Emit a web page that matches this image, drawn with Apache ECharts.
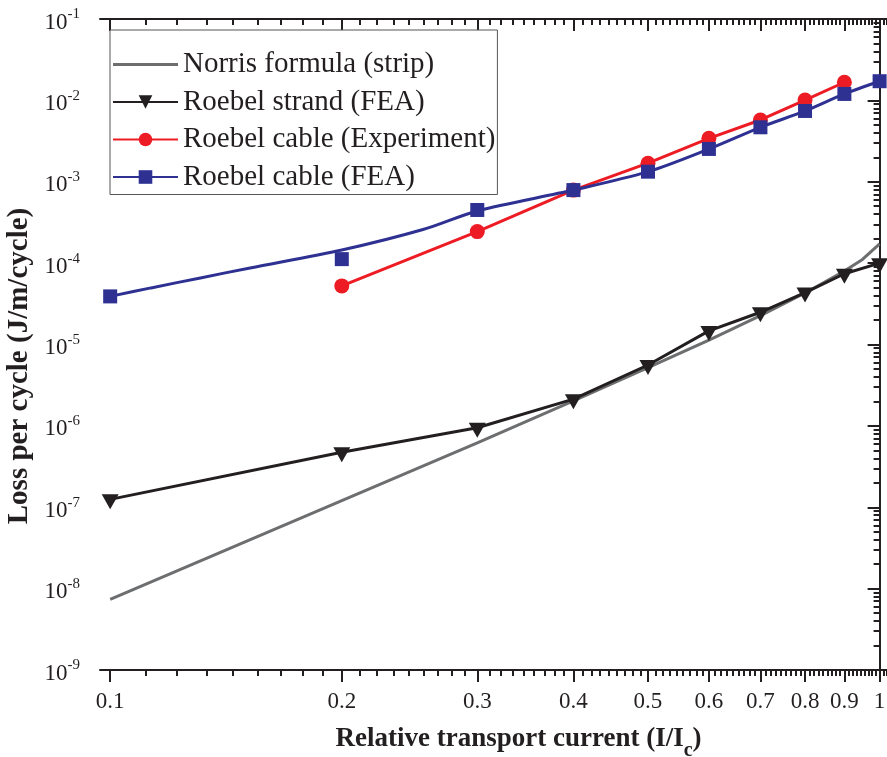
<!DOCTYPE html>
<html><head><meta charset="utf-8">
<script src="https://cdn.jsdelivr.net/npm/echarts@6/dist/echarts.min.js"></script>
<style>html,body{margin:0;padding:0;background:#fff}#c{width:887px;height:757px}</style>
</head><body><div id="c"></div>
<script>
// ---------- data ----------
const xTickLabels = [0.1, 0.2, 0.3, 0.4, 0.5, 0.6, 0.7, 0.8, 0.9, 1];
const yDecades = [-9, -8, -7, -6, -5, -4, -3, -2, -1];

const norrisX = [0.1, 0.2, 0.3, 0.4, 0.5, 0.6, 0.7, 0.8, 0.9, 0.95, 1.0];
const norrisY = [7.4e-9, 1.21e-7, 6.2e-7, 2.03e-6, 5.2e-6, 1.13e-5, 2.26e-5, 4.3e-5, 8.0e-5, 1.11e-4, 1.72e-4];

const strandX = [0.1, 0.2, 0.3, 0.4, 0.5, 0.6, 0.7, 0.8, 0.9, 1.0];
const strandY = [1.25e-7, 4.75e-7, 9.5e-7, 2.13e-6, 5.6e-6, 1.47e-5, 2.49e-5, 4.34e-5, 7.4e-5, 1.0e-4];

const expX = [0.2, 0.3, 0.4, 0.5, 0.6, 0.7, 0.8, 0.9];
const expY = [5.25e-5, 2.44e-4, 7.9e-4, 1.69e-3, 3.42e-3, 5.74e-3, 1.01e-2, 1.67e-2];

const cableX = [0.1, 0.2, 0.3, 0.4, 0.5, 0.6, 0.7, 0.8, 0.9, 1.0];
const cableY = [3.9e-5, 1.12e-4, 4.5e-4, 7.9e-4, 1.33e-3, 2.53e-3, 4.67e-3, 7.41e-3, 1.2e-2, 1.72e-2];

// fitted curve drawn through the FEA cable markers
const cableCurveX = [0.1, 0.113, 0.131, 0.152, 0.2, 0.255, 0.3, 0.4, 0.5, 0.6, 0.7, 0.8, 0.9, 1.0];
const cableCurveY = [3.9e-5, 4.96e-5, 6.58e-5, 8.73e-5, 1.45e-4, 2.59e-4, 4.38e-4, 7.9e-4, 1.33e-3, 2.53e-3, 4.67e-3, 7.41e-3, 1.2e-2, 1.72e-2];

const seriesNames = ['Norris formula (strip)', 'Roebel strand (FEA)', 'Roebel cable (Experiment)', 'Roebel cable (FEA)'];
const seriesColors = ['#6d6e70', '#231f20', '#ed1c24', '#2e3192'];

// ---------- helpers ----------
const FONT = '"Liberation Serif","Times New Roman",serif';
const TXT = '#231f20';
const L = Math.log10;
const pairs = (xs, ys) => xs.map((x, i) => [L(x), L(ys[i])]);

const xMin = L(0.097), xMax = L(1.0347);
const yMin = -9, yMax = -1;

const xMajor = xTickLabels.map(L);
const xMinor = [];
for (let i = 0; i < xTickLabels.length; i++) {
  const a = xTickLabels[i];
  for (let k = 1; k <= 8; k++) xMinor.push(L(a + k * 0.1 / 9));
}
const yMajor = yDecades.slice();
const yMinor = [];
for (const n of yDecades) {
  if (n >= yMax) continue;
  for (let k = 2; k <= 9; k++) yMinor.push(n + L(k));
}

const axisLineStyle = { color: TXT, width: 2 };
const hiddenLine = { show: true, lineStyle: { color: 'rgba(0,0,0,0)', width: 0 } };
const blankLabels = vals => ({ show: true, customValues: vals, formatter: () => '', fontSize: 1, margin: 0 });
const baseX = { type: 'value', min: xMin, max: xMax, splitLine: { show: false }, gridIndex: 0 };
const baseY = { type: 'value', min: yMin, max: yMax, splitLine: { show: false }, gridIndex: 0 };

const chart = echarts.init(document.getElementById('c'), null, { renderer: 'canvas' });
chart.setOption({
  animation: false,
  backgroundColor: '#fff',
  grid: { left: 100, top: 19, right: -4, bottom: 87, containLabel: false, outerBoundsMode: 'none' },
  legend: {
    orient: 'vertical', left: 110, top: 30,
    padding: [20, 2, 3, 2],
    backgroundColor: '#fff', borderColor: '#555', borderWidth: 1,
    itemWidth: 65, itemHeight: 17, itemGap: 8.5, itemTextGap: 8,
    textStyle: { fontFamily: FONT, fontSize: 29, lineHeight: 28, color: TXT },
    selectedMode: false,
    data: [
      { name: seriesNames[0], icon: 'path://M0,0H65V3H0Z' },
      seriesNames[1], seriesNames[2], seriesNames[3]
    ]
  },
  xAxis: [
    Object.assign({}, baseX, {
      position: 'bottom',
      axisLine: { show: true, lineStyle: axisLineStyle },
      axisTick: { show: true, inside: false, length: 12, lineStyle: axisLineStyle, customValues: xMajor },
      axisLabel: {
        show: true, customValues: xMajor, margin: 20,
        fontFamily: FONT, fontSize: 23, color: TXT,
        formatter: v => String(Math.round(Math.pow(10, v) * 10) / 10)
      },
      name: '{b|Relative transport current (I/I}{sub|c}{b|)}',
      nameLocation: 'middle', nameGap: 56,
      nameTextStyle: {
        padding: [0, 0, 0, 46],
        rich: {
          b: { fontFamily: FONT, fontSize: 27, fontWeight: 'bold', color: TXT, lineHeight: 30, verticalAlign: 'top' },
          sub: { fontFamily: FONT, fontSize: 20, fontWeight: 'bold', color: TXT, lineHeight: 20, padding: [15, 0, 0, 0], verticalAlign: 'top' }
        }
      }
    }),
    Object.assign({}, baseX, {
      position: 'bottom',
      axisLine: hiddenLine,
      axisTick: { show: true, inside: false, length: 6, lineStyle: axisLineStyle, customValues: xMinor },
      axisLabel: blankLabels(xMinor)
    }),
    Object.assign({}, baseX, {
      position: 'top',
      axisLine: { show: true, lineStyle: axisLineStyle },
      axisTick: { show: true, inside: true, length: 12, lineStyle: axisLineStyle, customValues: xMajor },
      axisLabel: blankLabels(xMajor)
    }),
    Object.assign({}, baseX, {
      position: 'top',
      axisLine: hiddenLine,
      axisTick: { show: true, inside: true, length: 6, lineStyle: axisLineStyle, customValues: xMinor },
      axisLabel: blankLabels(xMinor)
    })
  ],
  yAxis: [
    Object.assign({}, baseY, {
      position: 'left', interval: 1,
      axisLine: { show: true, lineStyle: axisLineStyle },
      axisTick: { show: true, inside: false, length: 12, lineStyle: axisLineStyle },
      axisLabel: {
        show: true, margin: 20,
        formatter: v => '{b|10}{s|' + Math.round(v) + '}',
        rich: {
          b: { fontFamily: FONT, fontSize: 23, color: TXT, lineHeight: 24, padding: [4, 0, 0, 0], verticalAlign: 'top' },
          s: { fontFamily: FONT, fontSize: 15, color: TXT, lineHeight: 15, verticalAlign: 'top' }
        }
      },
      name: 'Loss per cycle (J/m/cycle)',
      nameLocation: 'middle', nameRotate: 90, nameGap: 62,
      nameTextStyle: { fontFamily: FONT, fontSize: 29, fontWeight: 'bold', color: TXT, padding: [0, 43, 0, 0] }
    }),
    Object.assign({}, baseY, {
      position: 'left',
      axisLine: hiddenLine,
      axisTick: { show: true, inside: false, length: 6, lineStyle: axisLineStyle, customValues: yMinor },
      axisLabel: blankLabels(yMinor)
    }),
    Object.assign({}, baseY, {
      position: 'right', interval: 1,
      axisLine: { show: true, lineStyle: axisLineStyle },
      axisTick: { show: true, inside: true, length: 8, lineStyle: axisLineStyle, customValues: yMajor },
      axisLabel: blankLabels(yMajor)
    })
  ],
  series: [
    {
      name: seriesNames[0], type: 'line', symbol: 'none', showSymbol: false,
      color: seriesColors[0], lineStyle: { width: 3, color: seriesColors[0] },
      data: pairs(norrisX, norrisY), z: 2, emphasis: { disabled: true }
    },
    {
      name: seriesNames[1], type: 'line',
      symbol: 'path://M0,0L16,0L8,14Z', symbolSize: [17, 15], symbolOffset: [0, 2.5],
      color: seriesColors[1], itemStyle: { color: seriesColors[1] },
      lineStyle: { width: 3, color: seriesColors[1] },
      data: pairs(strandX, strandY), z: 3, emphasis: { disabled: true }
    },
    {
      name: seriesNames[2], type: 'line', symbol: 'circle', symbolSize: 15,
      color: seriesColors[2], itemStyle: { color: seriesColors[2] },
      lineStyle: { width: 3, color: seriesColors[2] },
      data: pairs(expX, expY), z: 3, emphasis: { disabled: true }
    },
    {
      name: seriesNames[3], type: 'line', symbol: 'rect', symbolSize: 13, smooth: 0.3,
      color: seriesColors[3], itemStyle: { color: seriesColors[3] },
      lineStyle: { width: 3, color: seriesColors[3] },
      data: pairs(cableCurveX, cableCurveY).map(p => ({ value: p, symbol: 'none' })),
      z: 4, emphasis: { disabled: true }
    },
    {
      name: seriesNames[3], type: 'scatter', symbol: 'rect', symbolSize: 14,
      color: seriesColors[3], itemStyle: { color: seriesColors[3], opacity: 1 },
      data: pairs(cableX, cableY), z: 5, emphasis: { disabled: true }
    }
  ]
});
</script>
</body></html>
